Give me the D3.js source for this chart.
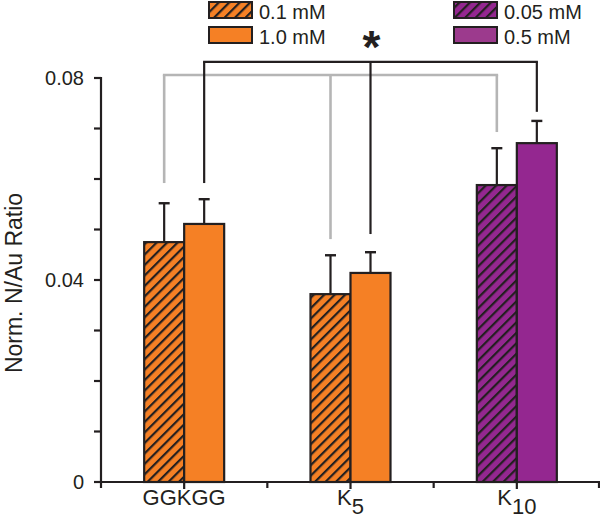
<!DOCTYPE html>
<html><head><meta charset="utf-8">
<script src="https://cdn.jsdelivr.net/npm/d3@7"></script>
<style>body{margin:0;background:#fff}svg{display:block}text{font-family:"Liberation Sans",Arial,sans-serif;fill:#231f20}</style>
</head><body>
<svg id="c" width="600" height="528"></svg>
<script>
const categories = ["GGKGG", "K5", "K10"];
const lowValues = [0.0475, 0.0372, 0.0588];
const lowErrors = [0.0077, 0.0077, 0.0073];
const highValues = [0.0511, 0.0414, 0.0671];
const highErrors = [0.0049, 0.0041, 0.0044];
const seriesColors = ["#f58025", "#f58025", "#942790"];
const legendLeft = ["0.1 mM", "1.0 mM"];
const legendRight = ["0.05 mM", "0.5 mM"];
const yTicks = [0, 0.04, 0.08];
const yMinorTicks = [0.01, 0.02, 0.03, 0.05, 0.06, 0.07];
// significance brackets: [level, end values for 3 categories]
const grayLevel = 0.0806, grayEnds = [0.0592, 0.0481, 0.0693];
const blackLevel = 0.0832, blackEnds = [0.0592, 0.0491, 0.0733];

const svg = d3.select("#c");
const dark = "#231f20";
const x = d3.scaleBand().domain(categories).range([101, 600]).padding(0);
const y = d3.scaleLinear().domain([0, 0.08]).range([482, 78]);
const bw = 40;

const defs = svg.append("defs");
function hatch(id, color) {
  const s = 7.4;
  const p = defs.append("pattern").attr("id", id).attr("patternUnits", "userSpaceOnUse")
    .attr("width", s).attr("height", s).attr("patternTransform", "rotate(45)");
  p.append("rect").attr("width", s).attr("height", s).attr("fill", color);
  p.append("line").attr("x1", 0).attr("y1", 0).attr("x2", 0).attr("y2", s)
    .attr("stroke", dark).attr("stroke-width", 4.4);
}
hatch("hO", "#f58025");
hatch("hP", "#942790");

// brackets
function bracket(level, ends, offset, color, width) {
  const xs = categories.map(c => x(c) + x.bandwidth() / 2 + offset);
  const g = svg.append("g").attr("stroke", color).attr("stroke-width", width).attr("fill", "none");
  g.append("line").attr("x1", xs[0] - width / 2).attr("x2", xs[2] + width / 2).attr("y1", y(level)).attr("y2", y(level));
  xs.forEach((xx, i) => g.append("line").attr("x1", xx).attr("x2", xx).attr("y1", y(level)).attr("y2", y(ends[i])));
}
bracket(grayLevel, grayEnds, -20, "#b5b5b5", 2.6);
bracket(blackLevel, blackEnds, 20, dark, 2.2);

// star
svg.append("text").attr("x", x("K5") + x.bandwidth() / 2 + 21).attr("y", 63)
  .attr("text-anchor", "middle").attr("font-size", 46).attr("font-weight", "bold").text("*");

// error bars & bars
function drawSeries(vals, errs, offset, fillFn) {
  const g = svg.append("g");
  categories.forEach((c, i) => {
    const cx = x(c) + x.bandwidth() / 2 + offset;
    g.append("line").attr("x1", cx + bw / 2).attr("x2", cx + bw / 2)
      .attr("y1", y(vals[i])).attr("y2", y(vals[i] + errs[i])).attr("stroke", dark).attr("stroke-width", 2.2);
    g.append("line").attr("x1", cx + bw / 2 - 5.5).attr("x2", cx + bw / 2 + 5.5)
      .attr("y1", y(vals[i] + errs[i])).attr("y2", y(vals[i] + errs[i])).attr("stroke", dark).attr("stroke-width", 2.4);
    g.append("rect").attr("x", cx).attr("y", y(vals[i])).attr("width", bw).attr("height", y(0) - y(vals[i]))
      .attr("fill", fillFn(i)).attr("stroke", dark).attr("stroke-width", 2.2);
  });
}
drawSeries(lowValues, lowErrors, -40, i => i === 2 ? "url(#hP)" : "url(#hO)");
drawSeries(highValues, highErrors, 0, i => seriesColors[i]);

// y axis
const ya = svg.append("g").attr("stroke", dark).attr("stroke-width", 2.2);
ya.append("line").attr("x1", 101).attr("x2", 101).attr("y1", y(0.08) - 1).attr("y2", y(0));
yTicks.concat(yMinorTicks).forEach(t => ya.append("line").attr("x1", 94).attr("x2", 101).attr("y1", y(t)).attr("y2", y(t)));
yTicks.forEach(t => svg.append("text").attr("x", 84).attr("y", y(t) + 7).attr("text-anchor", "end")
  .attr("font-size", 20).text(t === 0 ? "0" : t.toFixed(2)));

// x axis
const xa = svg.append("g").attr("stroke", dark).attr("stroke-width", 2.2);
xa.append("line").attr("x1", 94).attr("x2", 600).attr("y1", y(0)).attr("y2", y(0));
categories.forEach(c => {
  const cx = x(c) + x.bandwidth() / 2;
  xa.append("line").attr("x1", cx).attr("x2", cx).attr("y1", y(0)).attr("y2", y(0) + 7);
  xa.append("line").attr("x1", x(c)).attr("x2", x(c)).attr("y1", y(0)).attr("y2", y(0) + 6);
});
xa.append("line").attr("x1", 599).attr("x2", 599).attr("y1", y(0)).attr("y2", y(0) + 6);
categories.forEach(c => {
  const cx = x(c) + x.bandwidth() / 2;
  const t = svg.append("text").attr("x", cx).attr("y", 505).attr("text-anchor", "middle").attr("font-size", 22);
  const m = c.match(/^K(\d+)$/);
  if (m) {
    t.append("tspan").text("K");
    t.append("tspan").attr("dy", 9).text(m[1]);
  } else t.text(c);
});

// y title
svg.append("text").attr("transform", "translate(22,283) rotate(-90)").attr("text-anchor", "middle")
  .attr("font-size", 23).text("Norm. N/Au Ratio");

// legend
function legend(lx, labels, hatchId, color) {
  labels.forEach((l, i) => {
    const ly = 2 + i * 25;
    svg.append("rect").attr("x", lx).attr("y", ly).attr("width", 43).attr("height", 16)
      .attr("fill", i === 0 ? `url(#${hatchId})` : color).attr("stroke", dark).attr("stroke-width", 2);
    svg.append("text").attr("x", lx + 50).attr("y", ly + 17).attr("font-size", 20).text(l);
  });
}
legend(209, legendLeft, "hO", "#f58025");
legend(454, legendRight, "hP", "#9c3a8d");
</script>
</body></html>
